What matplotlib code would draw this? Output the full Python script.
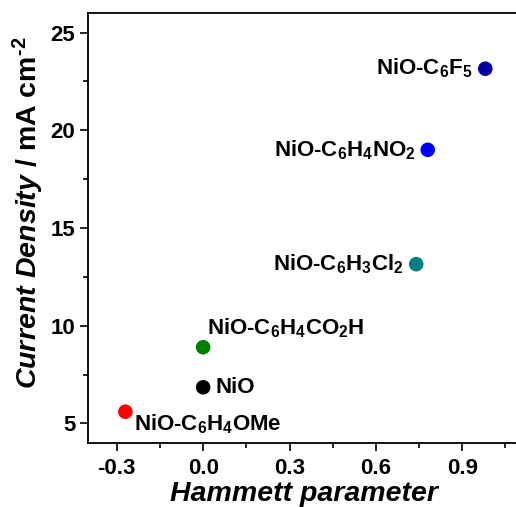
import matplotlib
matplotlib.use("Agg")
import matplotlib.pyplot as plt

plt.rcParams['font.family'] = ['Liberation Sans', 'DejaVu Sans']
plt.rcParams['font.weight'] = 'bold'
plt.rcParams['axes.unicode_minus'] = False
plt.rcParams['mathtext.fontset'] = 'custom'
plt.rcParams['mathtext.rm'] = 'Liberation Sans:bold'
plt.rcParams['mathtext.bf'] = 'Liberation Sans:bold'
plt.rcParams['mathtext.it'] = 'Liberation Sans:italic:bold'

# Hammett parameter vs. current density for each surface
names = ['NiO-C$_6$H$_4$OMe', 'NiO', 'NiO-C$_6$H$_4$CO$_2$H',
         'NiO-C$_6$H$_3$Cl$_2$', 'NiO-C$_6$H$_4$NO$_2$', 'NiO-C$_6$F$_5$']
hammett = [-0.27, 0.0, 0.0, 0.74, 0.78, 0.98]
current = [5.6, 6.85, 8.9, 13.15, 19.0, 23.15]
colors = ['#ff0000', '#000000', '#008000', '#008080', '#0000ff', '#0000a0']

# label offsets (points) and alignment
offsets = [(6, -9), (9, 0), (3, 14), (-9, 0), (-9, 0), (-9, 0)]
aligns = [('left', 'center'), ('left', 'center'), ('left', 'center'),
          ('right', 'center'), ('right', 'center'), ('right', 'center')]

fig = plt.figure(figsize=(5.16, 5.07), dpi=100)
ax = fig.add_axes([0.1705, 0.1262, 0.837, 0.8482])

ax.scatter(hammett, current, c=colors, s=110, zorder=3, edgecolors='none')

for name, x, y, off, (ha, va) in zip(names, hammett, current, offsets, aligns):
    ax.annotate(name, (x, y), xytext=off, textcoords='offset points',
                ha=ha, va=va, fontsize=16, fontweight='bold')

ax.set_xlim(-0.4, 1.1)
ax.set_ylim(4, 26)
ax.set_xticks([-0.3, 0.0, 0.3, 0.6, 0.9])
ax.set_xticks([-0.15, 0.15, 0.45, 0.75, 1.05], minor=True)
ax.set_yticks([5, 10, 15, 20, 25])
ax.set_yticks([7.5, 12.5, 17.5, 22.5], minor=True)
ax.tick_params(which='major', length=6, width=1.2, labelsize=16, pad=3)
ax.tick_params(axis='x', which='major', pad=5)
ax.tick_params(which='minor', length=3.5, width=1.2)
for lbl in ax.get_xticklabels() + ax.get_yticklabels():
    lbl.set_fontweight('bold')
for sp in ax.spines.values():
    sp.set_linewidth(1.3)

ax.set_xlabel('Hammett parameter', fontsize=20.5, fontweight='bold',
              fontstyle='italic', labelpad=1)
ax.set_ylabel('$\\mathit{Current\\ Density}$ / mA cm$^{\\text{-}2}$', fontsize=20.5,
              fontweight='bold', labelpad=1)
ax.yaxis.set_label_coords(-0.097, 0.535)

fig.savefig('out.png', dpi=100)
